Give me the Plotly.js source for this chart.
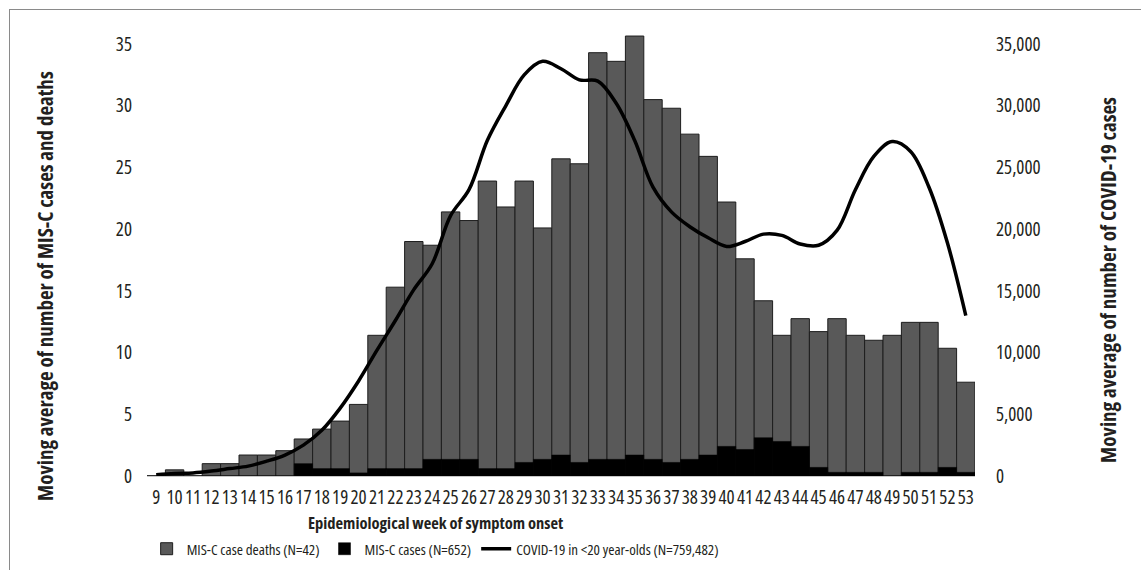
<!DOCTYPE html>
<html>
<head>
<meta charset="utf-8">
<script src="https://cdn.plot.ly/plotly-3.0.1.min.js"></script>
<style>
  html, body { margin: 0; padding: 0; background: #fff; }
  #wrap { position: relative; width: 1141px; height: 570px; }
  #chart { width: 1141px; height: 570px; }
  svg text { font-stretch: 75% !important; }
  #frame { position: absolute; left: 9px; top: 9px; right: 0; bottom: 0;
           border-left: 1.5px solid #8a8a8a; border-top: 1.5px solid #8a8a8a; pointer-events: none; }
</style>
</head>
<body>
<div id="wrap">
  <div id="chart"></div>
  <div id="frame"></div>
</div>
<script>
// Epidemiological weeks of symptom onset
const weeks = [9,10,11,12,13,14,15,16,17,18,19,20,21,22,23,24,25,26,27,28,29,30,31,
               32,33,34,35,36,37,38,39,40,41,42,43,44,45,46,47,48,49,50,51,52,53];

// Gray bars: "MIS-C case deaths (N=42)" (left axis, moving average)
const misCDeaths = [0,0.5,0,1.0,1.0,1.7,1.7,2.05,3.0,3.8,4.45,5.8,11.4,15.3,19.0,18.7,21.4,20.7,
                    23.9,21.8,23.9,20.1,25.7,25.3,34.3,33.6,35.65,30.5,29.8,27.7,25.9,22.2,17.6,
                    14.2,11.4,12.75,11.7,12.75,11.4,11.0,11.4,12.45,12.45,10.35,7.6];

// Black bars: "MIS-C cases (N=652)" (left axis, moving average)
const misCCases = [0,0,0,0,0,0,0,0,1.0,0.6,0.6,0.25,0.6,0.6,0.6,1.35,1.35,1.35,0.6,0.6,1.1,1.35,
                   1.7,1.1,1.35,1.35,1.7,1.35,1.1,1.35,1.7,2.4,2.15,3.1,2.8,2.4,0.7,0.3,0.3,0.3,0,
                   0.3,0.3,0.7,0.3];

// Line: "COVID-19 in <20 year-olds (N=759,482)" (right axis, moving average)
const covidCases = [100,200,250,400,600,800,1200,1700,2500,3700,5500,7700,10200,12600,15100,
                    17200,21100,23200,27200,30000,32500,33600,33000,32100,32000,30200,27200,23400,
                    21400,20200,19300,18600,19000,19600,19500,18800,18700,19900,23200,25900,27100,
                    26300,23400,18900,13000];

const leftTicks = [0,5,10,15,20,25,30,35];
const rightTicks = [0,5000,10000,15000,20000,25000,30000,35000];
const weekLabels = weeks.map(String);

const FONT = "'Open Sans', 'Roboto Condensed', sans-serif";
const TXT = '#231f20';

const traces = [
  {
    type: 'bar', name: 'MIS-C case deaths (N=42)', x: weeks, y: misCDeaths,
    marker: { color: '#595959', line: { color: '#1e1e1e', width: 1 } },
    hoverinfo: 'x+y'
  },
  {
    type: 'bar', name: 'MIS-C cases (N=652)', x: weeks, y: misCCases,
    marker: { color: '#000000', line: { color: '#000000', width: 0.5 } },
    hoverinfo: 'x+y'
  },
  {
    type: 'scatter', mode: 'lines', name: 'COVID-19 in <20 year-olds (N=759,482)',
    x: weeks, y: covidCases, yaxis: 'y2',
    line: { color: '#000000', width: 3.5, shape: 'spline', smoothing: 1 },
    hoverinfo: 'x+y'
  }
];

const layout = {
  width: 1141, height: 570,
  margin: { l: 147, r: 166, t: 20, b: 94, autoexpand: false },
  paper_bgcolor: '#ffffff', plot_bgcolor: '#ffffff',
  barmode: 'overlay', bargap: 0,
  font: { family: FONT, color: TXT, size: 18 },
  showlegend: true,
  legend: {
    orientation: 'h', x: 0.348, xanchor: 'center', y: -0.16, yanchor: 'middle',
    font: { family: FONT, size: 15, color: TXT }, traceorder: 'normal',
    itemwidth: 30, bgcolor: 'rgba(0,0,0,0)'
  },
  xaxis: {
    range: [8.5, 53.5], tickmode: 'array', tickvals: weeks, ticktext: weekLabels,
    showgrid: false, zeroline: false, showline: true, linecolor: '#c8c8c8', linewidth: 1,
    ticks: '', ticklabelstandoff: 4, tickangle: 0,
    tickfont: { family: FONT, size: 19, color: TXT }, layer: 'below traces'
  },
  yaxis: {
    range: [0, 36.95], tickmode: 'array', tickvals: leftTicks,
    showgrid: false, zeroline: false, showline: false, ticks: '',
    ticklabelstandoff: 14, tickfont: { family: FONT, size: 19, color: TXT }
  },
  yaxis2: {
    overlaying: 'y', side: 'right', range: [0, 36950], tickmode: 'array', tickvals: rightTicks,
    tickformat: ',d', showgrid: false, zeroline: false, showline: false, ticks: '',
    ticklabelstandoff: 20, tickfont: { family: FONT, size: 19, color: TXT }
  },
  annotations: [
    {
      text: '<b>Epidemiological week of symptom onset</b>', xref: 'paper', yref: 'paper',
      x: 0.349, y: -0.103, xanchor: 'center', yanchor: 'middle', showarrow: false,
      font: { family: FONT, size: 16.5, color: TXT }
    },
    {
      text: '<b>Moving average of number of MIS-C cases and deaths</b>', xref: 'paper', yref: 'paper',
      x: -0.123, y: 0.417, xanchor: 'center', yanchor: 'middle', textangle: -90, showarrow: false,
      font: { family: FONT, size: 21, color: TXT }
    },
    {
      text: '<b>Moving average of number of COVID-19 cases</b>', xref: 'paper', yref: 'paper',
      x: 1.1606, y: 0.43, xanchor: 'center', yanchor: 'middle', textangle: -90, showarrow: false,
      font: { family: FONT, size: 21, color: TXT }
    }
  ]
};

Plotly.newPlot('chart', traces, layout, { displayModeBar: false, staticPlot: true });
</script>
</body>
</html>
